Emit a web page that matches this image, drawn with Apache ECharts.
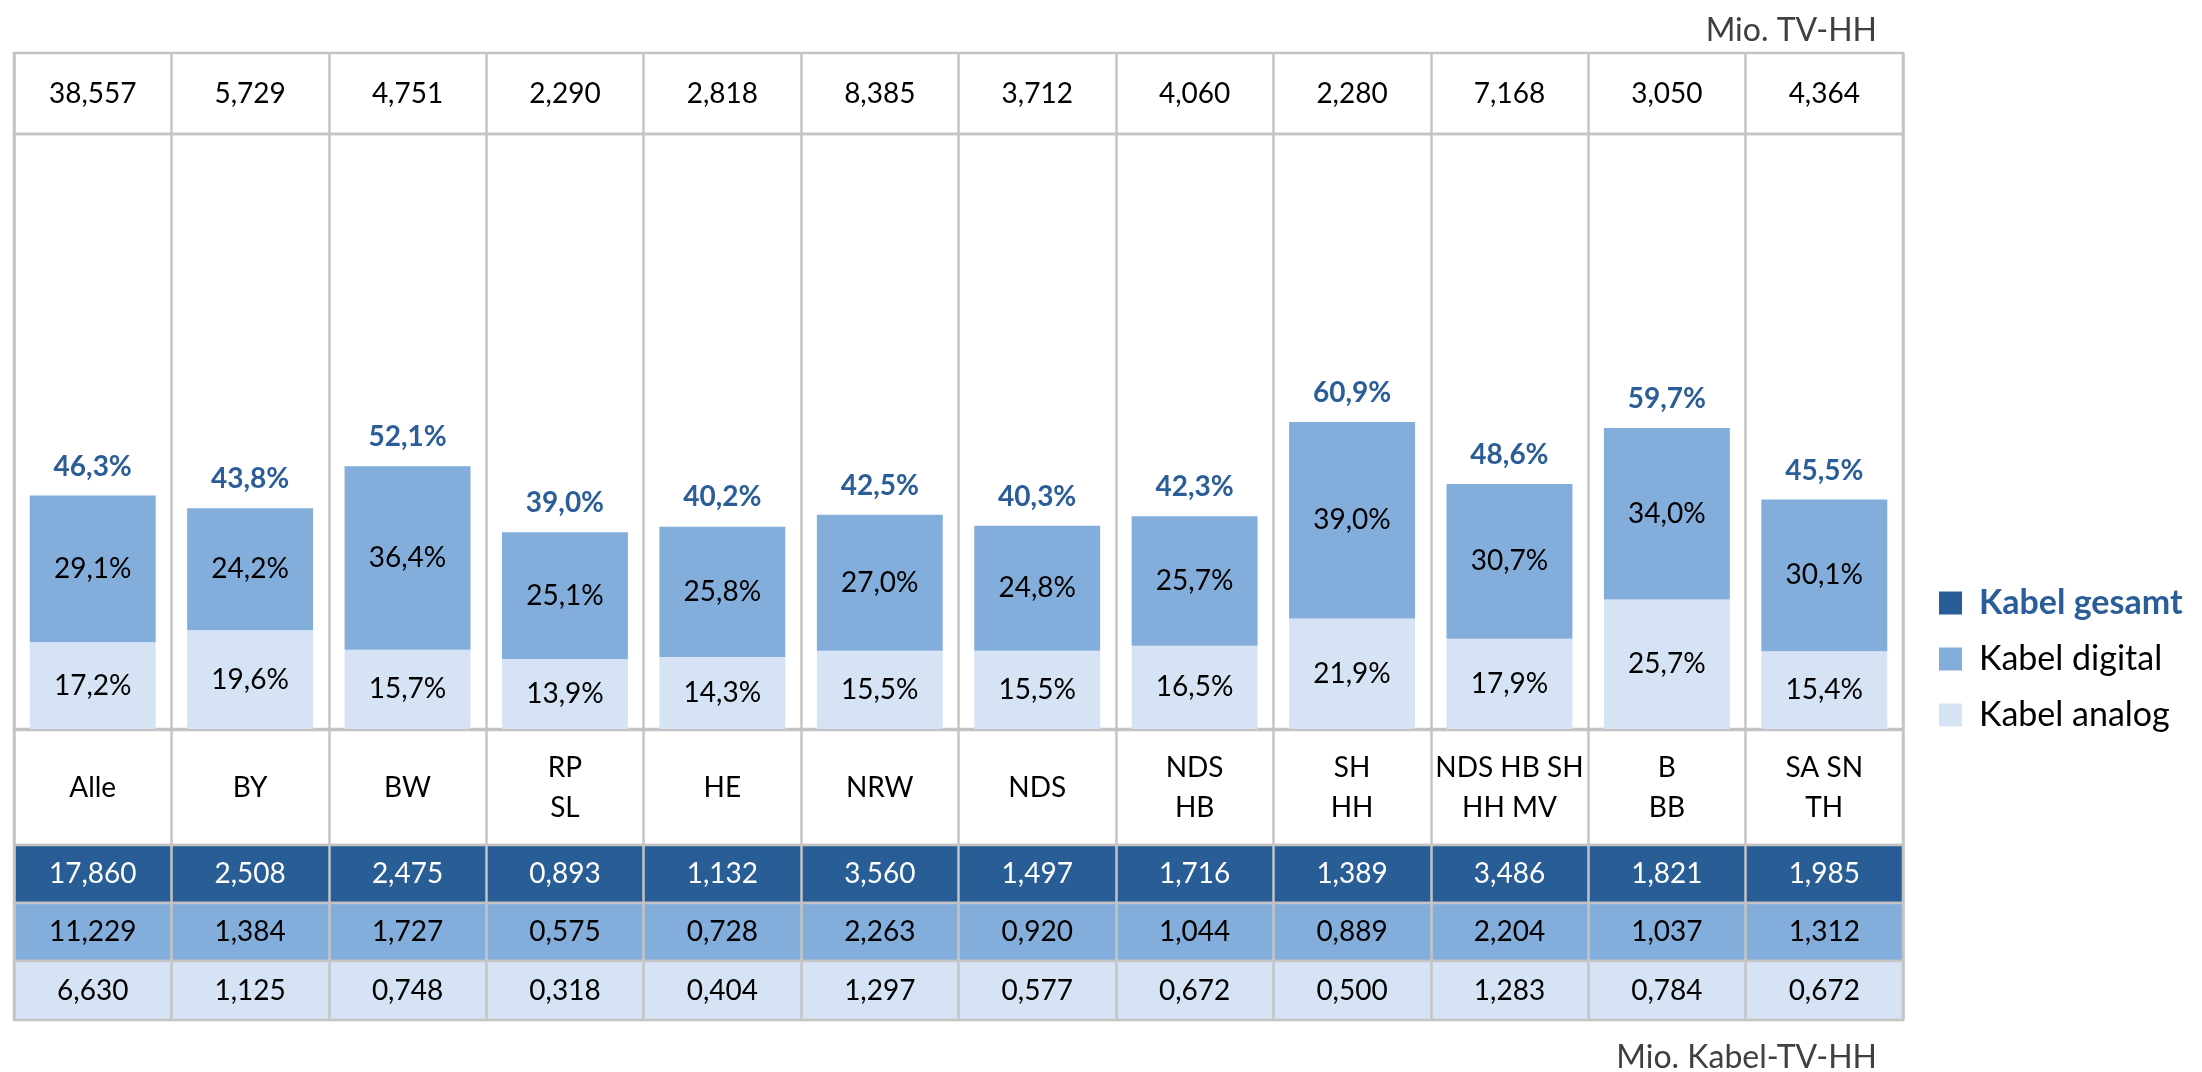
<!DOCTYPE html>
<html><head><meta charset="utf-8">
<script src="https://cdn.jsdelivr.net/npm/echarts@6/dist/echarts.min.js"></script>
<style>html,body{margin:0;padding:0;background:#fff}#c{width:2202px;height:1072px}</style>
</head><body><div id="c"></div>
<script>
// ---- data ----
const categories = ['Alle','BY','BW','RP\nSL','HE','NRW','NDS','NDS\nHB','SH\nHH','NDS HB SH\nHH MV','B\nBB','SA SN\nTH'];
const tvHH = [38.557, 5.729, 4.751, 2.290, 2.818, 8.385, 3.712, 4.060, 2.280, 7.168, 3.050, 4.364];
const analogPct = [17.2, 19.6, 15.7, 13.9, 14.3, 15.5, 15.5, 16.5, 21.9, 17.9, 25.7, 15.4];
const digitalPct = [29.1, 24.2, 36.4, 25.1, 25.8, 27.0, 24.8, 25.7, 39.0, 30.7, 34.0, 30.1];
const gesamtPct = [46.3, 43.8, 52.1, 39.0, 40.2, 42.5, 40.3, 42.3, 60.9, 48.6, 59.7, 45.5];
const kabelGesamt = [17.860, 2.508, 2.475, 0.893, 1.132, 3.560, 1.497, 1.716, 1.389, 3.486, 1.821, 1.985];
const kabelDigital = [11.229, 1.384, 1.727, 0.575, 0.728, 2.263, 0.920, 1.044, 0.889, 2.204, 1.037, 1.312];
const kabelAnalog = [6.630, 1.125, 0.748, 0.318, 0.404, 1.297, 0.577, 0.672, 0.500, 1.283, 0.784, 0.672];
const seriesNames = ['Kabel gesamt', 'Kabel digital', 'Kabel analog'];
const unitTop = 'Mio. TV-HH';
const unitBottom = 'Mio. Kabel-TV-HH';

// ---- styles ----
const C = {dark:'#295D96', digital:'#83AEDC', analog:'#D5E3F4', line:'#C4C4C4', blue:'#2B5E98', unit:'#404040'};
const FONT = 'Lato';
const FS = 28;
const fmt3 = v => v.toFixed(3).replace('.', ',');
const fmtPct = v => v.toFixed(1).replace('.', ',') + '%';
const L = 14, R = 299, LW = 2.5;

// table rows
const tableRows = [
  {top:53,  h:81,  bg:'#ffffff', texts: tvHH.map(fmt3), color:'#000'},
  {top:730, h:115, bg:'#ffffff', texts: categories, color:'#000'},
  {top:845, h:58,  bg:C.dark,    texts: kabelGesamt.map(fmt3), color:'#fff'},
  {top:903, h:58,  bg:C.digital, texts: kabelDigital.map(fmt3), color:'#000'},
  {top:961, h:59,  bg:C.analog,  texts: kabelAnalog.map(fmt3), color:'#000'}
];

const grid = [], xAxis = [], yAxis = [], series = [];
tableRows.forEach((r, i) => {
  grid.push({left:L, right:R, top:r.top, height:r.h, show:true, backgroundColor:r.bg, borderColor:C.line, borderWidth:LW});
  xAxis.push({gridIndex:i, type:'category', data:categories, axisLine:{show:false}, axisTick:{show:false}, axisLabel:{show:false},
    splitLine:{show:true, lineStyle:{color:C.line, width:LW}}});
  yAxis.push({gridIndex:i, type:'value', min:0, max:1, show:false});
  series.push({type:'bar', xAxisIndex:i, yAxisIndex:i, silent:true, barWidth:'100%',
    data: categories.map(() => 1), itemStyle:{color:'rgba(0,0,0,0)'},
    label:{show:true, position:'inside', formatter: p => r.texts[p.dataIndex], color:r.color,
      fontFamily:FONT, fontSize:FS, lineHeight:40}});
});

// chart grid
const ci = tableRows.length;
grid.push({left:L, right:R, top:134, height:595, show:true, backgroundColor:'rgba(0,0,0,0)', borderColor:C.line, borderWidth:LW});
xAxis.push({gridIndex:ci, type:'category', data:categories, axisLine:{show:false}, axisTick:{show:false}, axisLabel:{show:false},
  splitLine:{show:true, lineStyle:{color:C.line, width:LW}}});
yAxis.push({gridIndex:ci, type:'value', min:0, max:118, show:false});

const inLabel = {show:true, position:'inside', formatter: p => fmtPct(p.value), color:'#000', fontFamily:FONT, fontSize:FS};
series.push({name:seriesNames[2], type:'bar', xAxisIndex:ci, yAxisIndex:ci, stack:'k', barWidth:'80%',
  data: analogPct, itemStyle:{color:C.analog}, label:inLabel});
series.push({name:seriesNames[1], type:'bar', xAxisIndex:ci, yAxisIndex:ci, stack:'k', barWidth:'80%',
  data: digitalPct, itemStyle:{color:C.digital}, label:inLabel});
series.push({name:seriesNames[0], type:'bar', xAxisIndex:ci, yAxisIndex:ci, barWidth:'80%', barGap:'-100%', z:1,
  data: gesamtPct, itemStyle:{color:'rgba(0,0,0,0)'},
  label:{show:true, position:'top', distance:15, formatter: p => fmtPct(p.value), color:C.blue, fontFamily:FONT, fontSize:FS, fontWeight:'bold'}});

const option = {
  animation:false,
  backgroundColor:'#fff',
  title:[
    {text:unitTop, right:320, top:10, textStyle:{fontFamily:FONT, fontSize:32, fontWeight:'normal', color:C.unit}},
    {text:unitBottom, right:320, top:1037, textStyle:{fontFamily:FONT, fontSize:32, fontWeight:'normal', color:C.unit}}
  ],
  legend:{orient:'vertical', left:1934, top:578, itemWidth:23, itemHeight:23, itemGap:16, icon:'rect',
    selectedMode:false,
    data:[
      {name:seriesNames[0], itemStyle:{color:C.dark}, textStyle:{color:C.blue, fontWeight:'bold'}},
      {name:seriesNames[1]},
      {name:seriesNames[2]}
    ],
    textStyle:{fontFamily:FONT, fontSize:34, color:'#000', lineHeight:40, padding:[0,0,0,12]}},
  grid, xAxis, yAxis, series
};
const chart = echarts.init(document.getElementById('c'), null, {renderer:'canvas'});
chart.setOption(option);
</script></body></html>
